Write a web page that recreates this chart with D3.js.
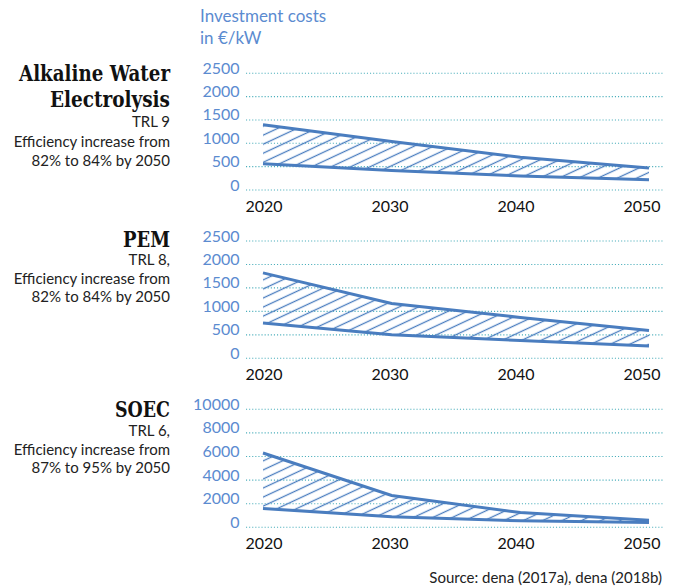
<!DOCTYPE html>
<html>
<head>
<meta charset="utf-8">
<script src="https://cdn.jsdelivr.net/npm/d3@7"></script>
<style>
  html, body { margin: 0; padding: 0; background: #fff; }
  svg { display: block; }
</style>
</head>
<body>
<script>
// Investment cost ranges (€/kW) for three electrolysis technologies
const years = [2020, 2030, 2040, 2050];

const alkalineHigh = [1400, 1040, 700, 470];
const alkalineLow  = [560, 420, 300, 220];
const pemHigh      = [1820, 1170, 870, 590];
const pemLow       = [750, 500, 380, 260];
const soecHigh     = [6300, 2700, 1250, 600];
const soecLow      = [1600, 900, 550, 400];

const smallTicks = [0, 500, 1000, 1500, 2000, 2500];
const soecTicks  = [0, 2000, 4000, 6000, 8000, 10000];

const titles = [
  { head: ["Alkaline Water", "Electrolysis"], notes: ["TRL 9", "Efficiency increase from", "82% to 84% by 2050"] },
  { head: ["PEM"], notes: ["TRL 8,", "Efficiency increase from", "82% to 84% by 2050"] },
  { head: ["SOEC"], notes: ["TRL 6,", "Efficiency increase from", "87% to 95% by 2050"] }
];

const yLabel = ["Investment costs", "in €/kW"];
const source = "Source: dena (2017a), dena (2018b)";

const W = 678, H = 587;
const lineBlue = "#4a7dbf";
const tickBlue = "#5b8bd0";
const gridTeal = "#4aaebb";

const svg = d3.select("body").append("svg")
  .attr("width", W).attr("height", H)
  .attr("viewBox", `0 0 ${W} ${H}`);

// diagonal hatch used for the cost range
const defs = svg.append("defs");
const pat = defs.append("pattern")
  .attr("id", "hatch")
  .attr("patternUnits", "userSpaceOnUse")
  .attr("width", 10).attr("height", 8.2)
  .attr("patternTransform", "rotate(-25)");
pat.append("line")
  .attr("x1", -1).attr("x2", 11)
  .attr("y1", 4.1).attr("y2", 4.1)
  .attr("stroke", lineBlue).attr("stroke-width", 1.3);

const x = d3.scaleLinear().domain([2020, 2050]).range([263, 649]);
const xLab = d3.scaleLinear().domain([2020, 2050]).range([264, 642]);
const gridX0 = 246, gridX1 = 663;

const panels = [
  { high: alkalineHigh, low: alkalineLow, ticks: smallTicks, y0: 190, y1: 73.3 },
  { high: pemHigh, low: pemLow, ticks: smallTicks, y0: 358.3, y1: 241 },
  { high: soecHigh, low: soecLow, ticks: soecTicks, y0: 527.3, y1: 409.3 }
];

// axis title
svg.append("g").selectAll("text").data(yLabel).join("text")
  .attr("x", 200).attr("y", (d, i) => 22 + i * 21.5)
  .attr("font-family", "Lato, sans-serif").attr("font-size", 17)
  .attr("fill", tickBlue).text(d => d);

const headY = [[80.5, 106.5], [246.5], [417.3]];
const noteY = [[127.3, 146.5, 165.5], [265, 283.5, 302], [436, 454.5, 473]];
const headW = [[151, 120], [47], [55]];

panels.forEach((p, i) => {
  const y = d3.scaleLinear().domain([0, d3.max(p.ticks)]).range([p.y0, p.y1]);
  const g = svg.append("g");

  // dotted gridlines
  g.selectAll("line.grid").data(p.ticks).join("line")
    .attr("class", "grid")
    .attr("x1", gridX0).attr("x2", gridX1)
    .attr("y1", d => y(d)).attr("y2", d => y(d))
    .attr("stroke", gridTeal).attr("stroke-width", 1.1)
    .attr("stroke-dasharray", "1.1,2");

  // value labels
  g.selectAll("text.ytick").data(p.ticks).join("text")
    .attr("class", "ytick")
    .attr("x", 239.5).attr("y", d => y(d) + 0.5)
    .attr("text-anchor", "end")
    .attr("font-family", "Lato, sans-serif").attr("font-size", 16)
    .attr("fill", tickBlue).text(d => d);

  // year labels
  g.selectAll("text.xtick").data(years).join("text")
    .attr("class", "xtick")
    .attr("x", d => xLab(d)).attr("y", p.y0 + 21.5)
    .attr("text-anchor", "middle")
    .attr("font-family", "Lato, sans-serif").attr("font-size", 16)
    .attr("fill", "#111").text(d => d);

  const rows = years.map((yr, k) => ({ yr, hi: p.high[k], lo: p.low[k] }));

  // hatched band between the low and high estimates
  const area = d3.area()
    .x(d => x(d.yr)).y0(d => y(d.lo)).y1(d => y(d.hi));
  g.append("path").datum(rows)
    .attr("d", area).attr("fill", "url(#hatch)");

  const line = d3.line().x(d => x(d.yr));
  g.append("path").datum(rows)
    .attr("d", line.y(d => y(d.hi)))
    .attr("fill", "none").attr("stroke", lineBlue).attr("stroke-width", 3);
  g.append("path").datum(rows)
    .attr("d", line.y(d => y(d.lo)))
    .attr("fill", "none").attr("stroke", lineBlue).attr("stroke-width", 3);

  // technology name and notes
  titles[i].head.forEach((t, k) => {
    g.append("text")
      .attr("x", 170).attr("y", headY[i][k])
      .attr("text-anchor", "end")
      .attr("font-family", "'DejaVu Serif', serif").attr("font-weight", "bold")
      .attr("font-size", 23)
      .attr("textLength", headW[i][k]).attr("lengthAdjust", "spacingAndGlyphs")
      .attr("fill", "#111").text(t);
  });
  titles[i].notes.forEach((t, k) => {
    g.append("text")
      .attr("x", 170).attr("y", noteY[i][k])
      .attr("text-anchor", "end")
      .attr("font-family", "Lato, sans-serif").attr("font-size", 15)
      .attr("fill", "#222").text(t);
  });
});

svg.append("text")
  .attr("x", 662).attr("y", 582.5)
  .attr("text-anchor", "end")
  .attr("font-family", "Lato, sans-serif").attr("font-size", 15)
  .attr("fill", "#222").text(source);
</script>
</body>
</html>
